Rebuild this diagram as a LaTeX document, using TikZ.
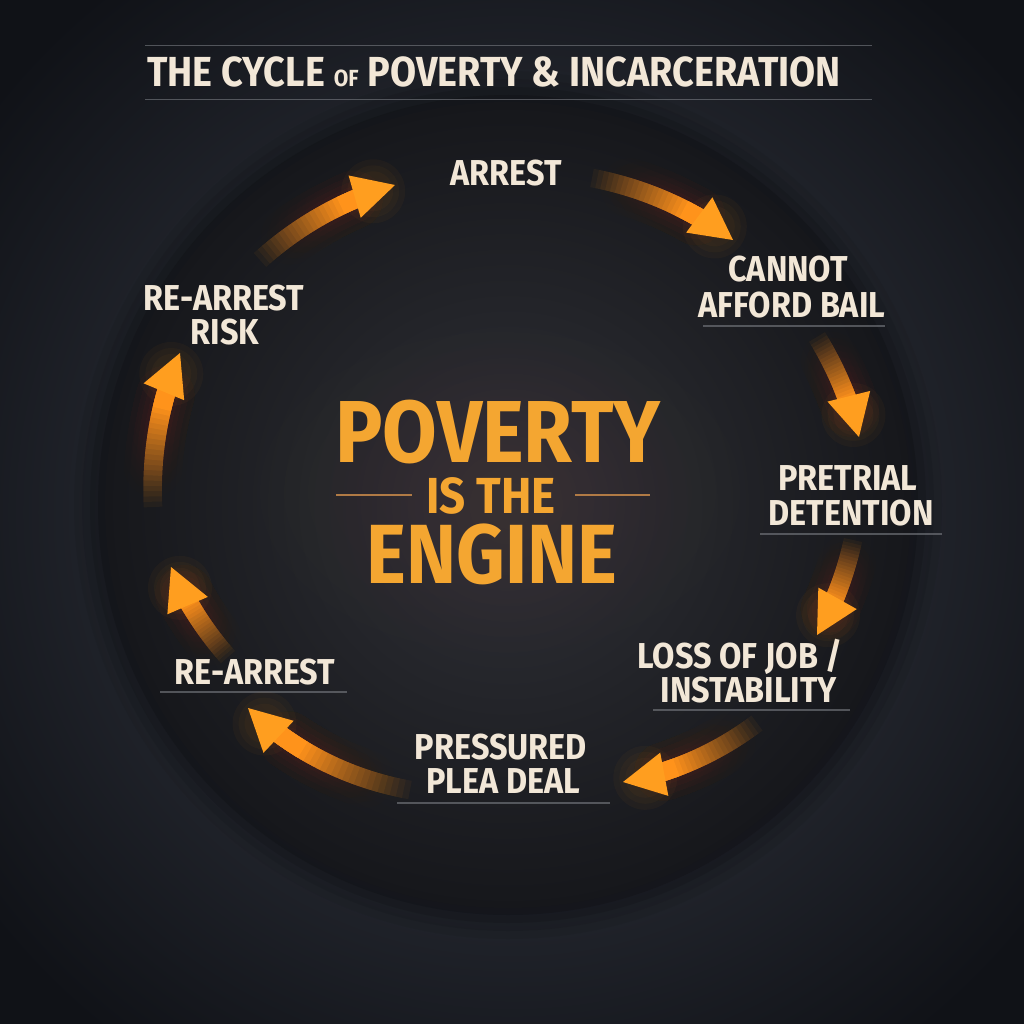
\documentclass[tikz,border=0pt]{standalone}
\usepackage{fontspec}
\usetikzlibrary{calc}
\newfontfamily\firacond[FakeStretch=0.9]{Fira Sans}
\definecolor{bgmid}{HTML}{3A3E49}
\definecolor{bgedge}{HTML}{101217}
\definecolor{circin}{HTML}{303137}
\definecolor{circout}{HTML}{16171B}
\definecolor{cream}{HTML}{F2E7D7}
\definecolor{amber}{HTML}{FF931B}
\definecolor{amberhead}{HTML}{FF9E1F}
\definecolor{gold}{HTML}{F4A631}
\definecolor{rulegray}{HTML}{7A7D83}
\definecolor{rulegold}{HTML}{B07A45}
\tikzset{
  lbl/.style={font=\firacond\bfseries\fontsize{27}{30}\selectfont, text=cream, inner sep=0pt, anchor=base},
  big/.style={text=gold, inner sep=0pt, anchor=base, text depth=0pt},
  shaft/.style={draw=amber, line width=14pt, line cap=butt},
  halo/.style={draw=amber, line cap=round},
  underl/.style={draw=rulegray, line width=0.8pt, draw opacity=0.6},
}
% quadratic curve tail (#1), control (#2), tip (#3); each layer is the exact piece [t0,te]
\newcommand\cyclearrow[3]{%
  % soft glow along the shaft, ending at t=0.72
  \coordinate (g1) at ($(#1)!0.72!(#2)$);
  \coordinate (g2) at ($(#2)!0.72!(#3)$);
  \coordinate (ge) at ($(g1)!0.72!(g2)$);
  \foreach \w in {20,27,35,44}{%
    \foreach \k in {0,...,5}{%
      \pgfmathsetmacro\tz{0.25+0.4*\k/6}%
      \coordinate (q1) at ($(#1)!\tz!(#2)$);
      \coordinate (q2) at ($(#2)!\tz!(#3)$);
      \coordinate (s0) at ($(q1)!\tz!(q2)$);
      \coordinate (qq) at ($(q1)!0.72!(q2)$);
      \draw[halo, line width=\w pt, draw opacity=0.007] (s0) .. controls ($(s0)!2/3!(qq)$) and ($(ge)!2/3!(qq)$) .. (ge);
    }
  }
  % soft glow round the head
  \coordinate (hg) at ($(#3)!17pt!(#2)$);
  \foreach \rr in {20,26,32}{\fill[amber, opacity=0.035] (hg) circle[radius=\rr];}
  % shaft with linear opacity ramp, ending at t=0.8 (inside the head)
  \coordinate (e1) at ($(#1)!0.8!(#2)$);
  \coordinate (e2) at ($(#2)!0.8!(#3)$);
  \coordinate (se) at ($(e1)!0.8!(e2)$);
  \foreach \k in {0,...,19}{%
    \pgfmathsetmacro\tz{0.66*\k/20}%
    \pgfmathsetmacro\al{1/(20-\k)}%
    \coordinate (q1) at ($(#1)!\tz!(#2)$);
    \coordinate (q2) at ($(#2)!\tz!(#3)$);
    \coordinate (s0) at ($(q1)!\tz!(q2)$);
    \coordinate (qq) at ($(q1)!0.8!(q2)$);
    \draw[shaft, draw opacity=\al] (s0) .. controls ($(s0)!2/3!(qq)$) and ($(se)!2/3!(qq)$) .. (se);
  }
  \coordinate (hm) at ($(#3)!31.5pt!(#2)$);
  \fill[amberhead] (#3) -- ($(hm)!16.5pt!90:(#3)$) -- ($(hm)!16.5pt!-90:(#3)$) -- cycle;
}
\begin{document}
\begin{tikzpicture}[x=0.75pt, y=-0.75pt]
\useasboundingbox (0,0) rectangle (1024,1024);
% background
\shade[inner color=bgmid, outer color=bgedge] (-150,-150) rectangle (1174,1174);
% circle with soft shadow
\coordinate (O) at (508,505);
\foreach \r/\o in {434/0.05, 426/0.07, 418/0.10, 410/0.15}{
  \fill[black, opacity=\o] (O) circle[radius=\r];
}
\shade[inner color=circin, outer color=circout] (O) circle[radius=403];
% warm glow behind the centre
\foreach \s in {1.0,0.9,...,0.2}{
  \fill[gold, opacity=0.008] (500,492) ellipse[x radius=240*\s, y radius=160*\s];
}

% title
\draw[rulegray, line width=0.9pt, opacity=0.6] (145,45.5) -- (872,45.5);
\draw[rulegray, line width=0.9pt, opacity=0.6] (145,99.5) -- (872,99.5);
\node[font=\firacond\bfseries\fontsize{31.5}{34}\selectfont, text=cream, inner sep=0pt, anchor=base] (title) at (494,87)
  {THE CYCLE {\fontsize{17.5}{20}\selectfont OF} POVERTY \& INCARCERATION};

% centre text
\node[big, text height=46pt, font=\firacond\bfseries\fontsize{66}{70}\selectfont] (poverty) at (498,462) {POVERTY};
\node[big, text height=26pt, font=\firacond\bfseries\fontsize{38}{40}\selectfont] (isthe) at (491,513) {IS THE};
\node[big, text height=43pt, font=\firacond\bfseries\fontsize{63}{66}\selectfont] (engine) at (492,583) {ENGINE};
\draw[rulegold, line width=1.6pt] (336,495) -- (412,495);
\draw[rulegold, line width=1.6pt] (575,495) -- (650,495);

% labels
\node[lbl] (arrest) at (506,185) {ARREST};
\node[lbl] (cannot) at (788,281) {CANNOT};
\node[lbl] (bail) at (792,317) {AFFORD BAIL};
\node[lbl] (pretrial) at (848,490) {PRETRIAL};
\node[lbl] (detention) at (851,525) {DETENTION};
\node[lbl] (loss) at (740,668) {LOSS OF JOB /};
\node[lbl] (instab) at (749,702) {INSTABILITY};
\node[lbl] (pressured) at (501,759) {PRESSURED};
\node[lbl] (plea) at (503,793) {PLEA DEAL};
\node[lbl] (rearrest) at (255,684) {RE-ARREST};
\node[lbl] (risk1) at (224,310) {RE-ARREST};
\node[lbl] (risk2) at (225,344) {RISK};

% underlines
\draw[underl] (703,326) -- (885,326);
\draw[underl] (760,534) -- (942,534);
\draw[underl] (653,710) -- (850,710);
\draw[underl] (397,803) -- (610,803);
\draw[underl] (160,692) -- (347,692);

% arrow coordinates: tail, control, tip
\coordinate (a1) at (592,178); \coordinate (c1) at (669.5,192.8); \coordinate (b1) at (733,240);
\coordinate (a2) at (817,337); \coordinate (c2) at (845.7,383.8); \coordinate (b2) at (859,437);
\coordinate (a3) at (853,540); \coordinate (c3) at (842.1,590.2); \coordinate (b3) at (817,635);
\coordinate (a4) at (757,723); \coordinate (c4) at (697.1,768.1); \coordinate (b4) at (623,782);
\coordinate (a5) at (410,790); \coordinate (c5) at (316.9,772.9); \coordinate (b5) at (248,708);
\coordinate (a6) at (228,657); \coordinate (c6) at (192.4,616.8); \coordinate (b6) at (171,567);
\coordinate (a7) at (153,507); \coordinate (c7) at (149.3,426.8); \coordinate (b7) at (180,353);
\coordinate (a8) at (260,260); \coordinate (c8) at (318.9,206.9); \coordinate (b8) at (395,185);
\cyclearrow{a1}{c1}{b1}
\cyclearrow{a2}{c2}{b2}
\cyclearrow{a3}{c3}{b3}
\cyclearrow{a4}{c4}{b4}
\cyclearrow{a5}{c5}{b5}
\cyclearrow{a6}{c6}{b6}
\cyclearrow{a7}{c7}{b7}
\cyclearrow{a8}{c8}{b8}
\end{tikzpicture}
\end{document}
